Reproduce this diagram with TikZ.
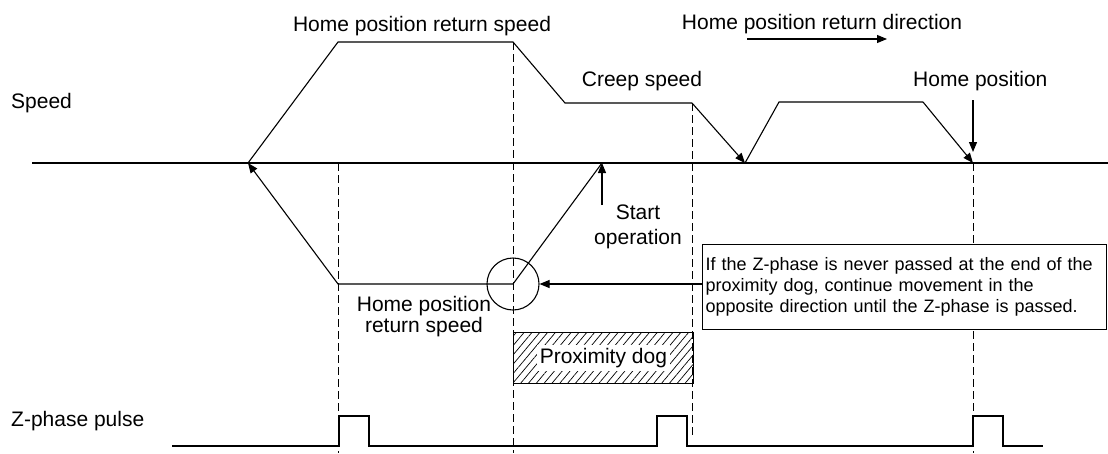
\documentclass[tikz,border=0pt]{standalone}
\usepackage{fontspec}
\setmainfont{Liberation Sans}
\usetikzlibrary{positioning,arrows.meta,patterns.meta}

\begin{document}
\begin{tikzpicture}[x=1pt,y=-1pt,every node/.style={font=\fontsize{21}{25}\selectfont,inner sep=0pt},
  ln/.style={line width=1.1pt},arr/.style={ln,-{Triangle[length=10pt,width=8pt]}},
  guide/.style={line width=0.9pt,dash pattern=on 8pt off 4pt},
  note/.style={draw,line width=1pt,fill=white,font=\fontsize{18}{21}\selectfont,text width=398pt,align=left,inner xsep=3pt,inner ysep=13pt}]
\useasboundingbox (0,0) rectangle (1108,453);
% labels
\node (spd) [anchor=base west] at (11,108) {Speed};
\node (zph) [anchor=base west] at (11,426) {Z-phase pulse};
\node (hrs) [anchor=base] at (422,31) {Home position return speed};
\node (dir) [anchor=base] at (822,29) {Home position return direction};
\node (crp) [anchor=base] at (642,86) {Creep speed};
\node (hpl) [anchor=base west] at (913,86) {Home position};
\node (so) [anchor=north,align=center] at (638,205) {Start\\operation};
\node (rs) [anchor=north,align=center,font=\fontsize{21}{21}\selectfont] at (424,296) {Home position\\return speed};
% guides
\foreach \x/\t/\b in {338/163/453,513/42/453,692/103/436,973/163/453} \draw[guide] (\x,\t)--(\x,\b);
% speed axis
\coordinate (a0) at (32,163); \coordinate (a1) at (1108,163);
\draw[line width=1.6pt] (a0)--(a1);
% speed profile
\coordinate (st) at (602,163); \coordinate (r1) at (513,284); \coordinate (r2) at (338,284); \coordinate (r3) at (248,163);
\coordinate (f1) at (338,42); \coordinate (f2) at (513,42); \coordinate (f3) at (565,103); \coordinate (f4) at (692,103); \coordinate (f5) at (745,163);
\coordinate (g1) at (779,102); \coordinate (g2) at (923,102); \coordinate (hp) at (973,163);
\draw[arr] (st)--(r1)--(r2)--(r3);
\draw[ln] (r3)--(f1)--(f2)--(f3)--(f4);
\draw[arr] (f4)--(f5);
\draw[ln] (f5)--(g1)--(g2);
\draw[arr] (g2)--(hp);
% arrows to labels
\coordinate (d0) at (747,39); \coordinate (d1) at (887,39);
\draw[arr] (d0)--(d1);
\coordinate (hpt) at (973,100);
\draw[arr] (hpt)--([yshift=11pt]hp);
\draw[arr] (so.north -| st)--(st);
% z-phase check
\node (zc) [circle,draw,line width=1.1pt,minimum size=52pt] at (r1) {};
\node (nt) [note,anchor=north west] at (702,244) {If the Z-phase is never passed at the end of the\\proximity dog, continue movement in the\\opposite direction until the Z-phase is passed.};
\draw[arr] (nt.west |- zc)--(zc.east);
% proximity dog
\node (dog) [draw,line width=1pt,pattern={Lines[angle=50,distance=6pt,line width=0.7pt]},minimum width=180pt,minimum height=51pt,anchor=north west] at (513,332) {};
\node (dgt) [fill=white,inner sep=3pt] at (dog) {Proximity dog};
% z-phase pulse
\draw[ln] (172,446) -| (339,416) -| (369,446) -| (657,416) -| (687,446) -| (973,416) -| (1003,446) -- (1043,446);
\end{tikzpicture}
\end{document}
